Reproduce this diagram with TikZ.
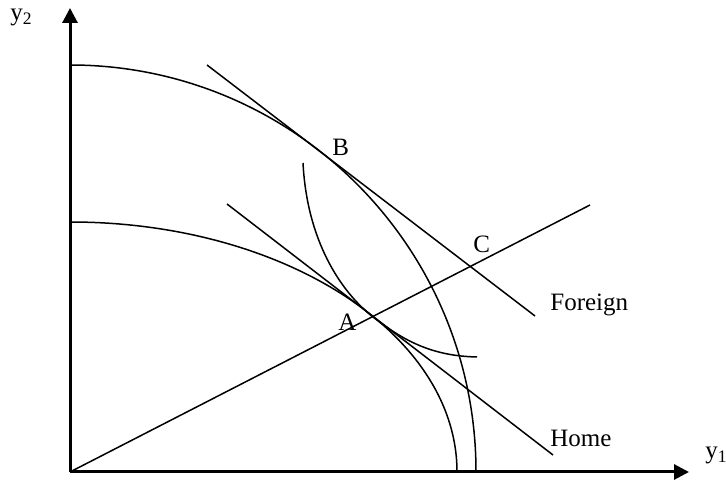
\documentclass[tikz,border=0pt]{standalone}
\usepackage{fontspec}
\setmainfont{Liberation Serif}
\usetikzlibrary{arrows.meta}
\begin{document}
\begin{tikzpicture}[x=0.5pt,y=0.5pt,
  axis/.style={line width=1.5pt,-{Triangle[length=7.5pt,width=7.5pt]}},
  curve/.style={line width=0.75pt},
  lbl/.style={anchor=base west,inner sep=0pt,font=\fontsize{12.5}{15}\selectfont}]

\useasboundingbox (0,0) rectangle (726,480);

% axes
\coordinate (O) at (70,8);
\coordinate (ytop) at (70,472);
\coordinate (xend) at (689,8);
\draw[axis] (O) -- (ytop);
\draw[axis] (O) -- (xend);
\node[lbl] (ylab) at (10,459) {y\textsubscript{2}};
\node[lbl] (xlab) at (705,21) {y\textsubscript{1}};

% production possibility frontiers
\draw[curve] (70,415) arc[start angle=90,end angle=0,x radius=406,y radius=407];
\draw[curve] (70,258) arc[start angle=90,end angle=0,x radius=387,y radius=250];

% ray through A and C
\coordinate (R) at (590,275);
\draw[curve] (O) -- (R);

% price lines
\coordinate (F1) at (207,415);
\coordinate (F2) at (535,164);
\coordinate (H1) at (227,276);
\coordinate (H2) at (553,25);
\draw[curve] (F1) -- (F2);
\draw[curve] (H1) -- (H2);

% indifference curve
\coordinate (I1) at (303,317);
\coordinate (A) at (373,163);
\coordinate (I2) at (477,123);
\draw[curve] (I1) .. controls (307,240) and (340,189) .. (A)
  .. controls (404,139) and (432,124) .. (I2);

\node[lbl] (Blab) at (332,324) {B};
\node[lbl] (Clab) at (473,227) {C};
\node[lbl] (Alab) at (338,149) {A};
\node[lbl] (Flab) at (550,169) {Foreign};
\node[lbl] (Hlab) at (550,33) {Home};

\end{tikzpicture}
\end{document}
